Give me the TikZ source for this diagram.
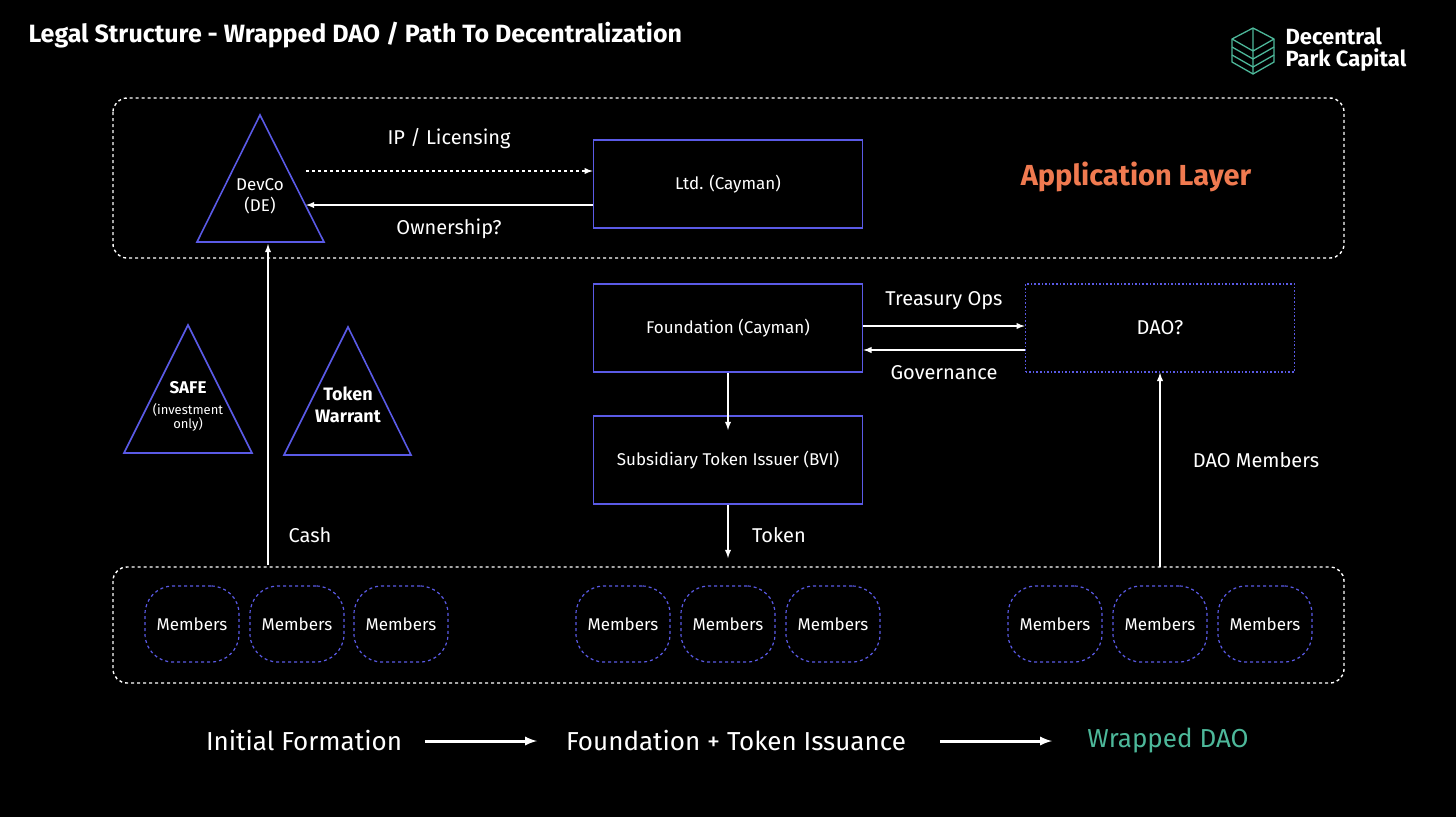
\documentclass[tikz,border=0pt]{standalone}
\usepackage{fontspec}
\setmainfont{Fira Sans}
\usetikzlibrary{positioning}
\definecolor{boxblue}{HTML}{5A5AE6}
\definecolor{dpcorange}{HTML}{F07A50}
\definecolor{dpcgreen}{HTML}{4DB89A}
\tikzset{
  box/.style={draw=boxblue, line width=1.6pt, minimum width=269pt, minimum height=88pt, text=white, font=\fontsize{17}{20}\selectfont},
  member/.style={draw=boxblue, dashed, line width=1.2pt, rounded corners=28pt, minimum width=94pt, minimum height=76pt, text=white, font=\fontsize{17}{20}\selectfont},
  frame/.style={draw=white, dash pattern=on 3pt off 3pt, line width=1.4pt, rounded corners=14pt},
  tri/.style={draw=boxblue, line width=1.6pt},
  lbl/.style={text=white, font=\fontsize{20}{24}\selectfont},
  arr/.style={draw=white, line width=1.8pt, -latex},
}
\begin{document}
\begin{tikzpicture}[x=1pt,y=-1pt]
\fill[black] (0,0) rectangle (1456,817);
\useasboundingbox (0,0) rectangle (1456,817);
% title and logo
\node[anchor=west, text=white, font=\fontsize{25}{30}\selectfont\bfseries] (title) at (25,35) {Legal Structure - Wrapped DAO / Path To Decentralization};
\node[anchor=west, text=white, align=left, font=\fontsize{22}{22}\selectfont\bfseries] (logo) at (1282,50) {Decentral\\Park Capital};
\begin{scope}[dpcgreen, line width=1.3pt]
  \draw (1253,28) -- (1274,39) -- (1274,62) -- (1253,74) -- (1232,62) -- (1232,39) -- cycle;
  \draw (1232,39) -- (1253,51) -- (1274,39) (1253,51) -- (1253,74) (1253,28) -- (1253,51);
  \draw (1232,47) -- (1253,59) -- (1274,47) (1232,55) -- (1253,67) -- (1274,55);
\end{scope}
% frames
\draw[frame] (113,98) rectangle (1344,258);
\draw[frame] (113,567) rectangle (1344,683);
\node[text=dpcorange, font=\fontsize{29}{34}\selectfont\bfseries] (applayer) at (1136,177) {Application Layer};
% triangles
\draw[tri] (260,115) -- (324,242) -- (197,242) -- cycle;
\node[text=white, align=center, font=\fontsize{17}{21}\selectfont] (devco) at (260,196) {DevCo\\(DE)};
\coordinate (devcobase) at (268,244);
\draw[tri] (188,325) -- (252,453) -- (124,453) -- cycle;
\node[text=white, align=center, font=\fontsize{17}{17}\selectfont\bfseries] (safe) at (188,388) {SAFE};
\node[text=white, align=center, font=\fontsize{13}{14}\selectfont] (safenote) at (188,417) {(investment\\only)};
\draw[tri] (348,327) -- (411,455) -- (284,455) -- cycle;
\node[text=white, align=center, font=\fontsize{18}{22}\selectfont\bfseries] (warrant) at (348,405) {Token\\Warrant};
% boxes
\node[box] (ltd) at (728,184) {Ltd. (Cayman)};
\node[box] (found) at (728,328) {Foundation (Cayman)};
\node[box] (sub) at (728,460) {Subsidiary Token Issuer (BVI)};
\node[box, draw=boxblue, dotted, font=\fontsize{20}{24}\selectfont] (dao) at (1160,328) {DAO?};
% members
\foreach \x [count=\i] in {192,297,401,623,728,833,1055,1160,1265}
  \node[member] (m\i) at (\x,624) {Members};
% connectors
\draw[arr, dashed] (306,171) -- (ltd.west |- 0,171);
\draw[arr] (ltd.west |- 0,205) -- (306,205);
\node[lbl] (iplbl) at (449,139) {IP / Licensing};
\node[lbl] (ownlbl) at (449,229) {Ownership?};
\draw[arr] (268,565) -- (devcobase);
\node[lbl] (cashlbl) at (310,535) {Cash};
\draw[arr] (found.east |- 0,326) -- (dao.west |- 0,326);
\draw[arr] (dao.west |- 0,350) -- (found.east |- 0,350);
\node[lbl] (treaslbl) at (944,301) {Treasury Ops};
\node[lbl] (govlbl) at (944,373) {Governance};
\draw[arr] (found) -- (728,430);
\draw[arr] (sub) -- (728,558);
\node[lbl] (toklbl) at (779,535) {Token};
\draw[arr] (1160,567) -- (dao);
\node[lbl] (daomlbl) at (1256,460) {DAO Members};
% phases
\node[text=white, font=\fontsize{26}{30}\selectfont] (ph1) at (304,741) {Initial Formation};
\node[text=white, font=\fontsize{26}{30}\selectfont] (ph2) at (736,741) {Foundation + Token Issuance};
\node[text=dpcgreen, font=\fontsize{26}{30}\selectfont] (ph3) at (1168,741) {Wrapped DAO};
\draw[arr, line width=3pt] (425,741) -- (537,741);
\draw[arr, line width=3pt] (940,741) -- (1052,741);
\end{tikzpicture}
\end{document}
